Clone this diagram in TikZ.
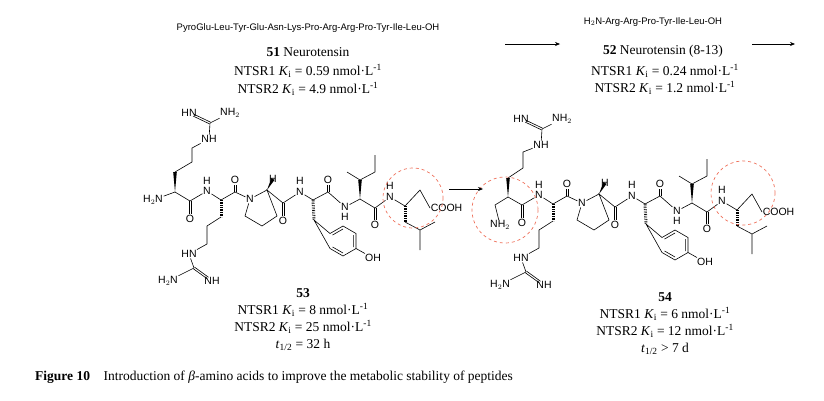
\documentclass[tikz,border=0pt]{standalone}
\usepackage{fontspec}
\setmainfont{Liberation Serif}
\setsansfont{Liberation Sans}
\usetikzlibrary{calc,arrows.meta}
\definecolor{rc}{RGB}{238,112,90}
\newcommand{\atf}{\sffamily\fontsize{10.5}{11}\selectfont}
\newcommand{\Ki}{\textit{K}\textsubscript{i}}
\newcommand{\wdg}[2]{\fill (#1) -- ($(#2)!1.8pt!90:(#1)$) -- ($(#2)!1.8pt!-90:(#1)$) -- cycle;}
\newcommand{\dbo}[2]{\draw[bd,shorten >=5pt] ($(#1)!1pt!90:(#2)$) -- ($(#2)!1pt!-90:(#1)$); \draw[bd,shorten >=5pt] ($(#1)!1pt!-90:(#2)$) -- ($(#2)!1pt!90:(#1)$);}
\newcommand{\pepcore}{%
 \coordinate (C1) at (190,201); \node[atm] (O1) at (190,219) {O};
 \node[atm] (N2) at (207,191) {N}; \node[atm] (H2) at (207,181) {H};
 \coordinate (A2) at (221,200); \coordinate (s1) at (221,217); \coordinate (s2) at (207,226); \coordinate (s3) at (207,244);
 \node[atm] (gHN) at (189,254) {HN}; \coordinate (gC) at (194,268);
 \node[atm] (gNH2) at (168,281) {H$_2$N}; \node[atm] (gNH) at (212,281) {NH};
 \coordinate (C2) at (235,192); \node[atm] (O2) at (235,180) {O};
 \node[atm] (NP) at (250,199) {N}; \coordinate (PA) at (267,190); \node[atm] (PH) at (273,179) {H};
 \coordinate (r1) at (245,216); \coordinate (r2) at (262,226); \coordinate (r3) at (277,216);
 \coordinate (C3) at (283,203); \node[atm] (O3) at (283,221) {O};
 \node[atm] (N3) at (300,192) {N}; \node[atm] (H3) at (300,181) {H};
 \coordinate (A3) at (313,200); \coordinate (t1) at (314,220);
 \coordinate (bc) at (343,241);
 \coordinate (b1) at (330,233.5); \coordinate (b2) at (343,226); \coordinate (b3) at (356,233.5);
 \coordinate (b4) at (356,248.5); \coordinate (b5) at (343,256); \coordinate (b6) at (330,248.5);
 \node[atm] (OH) at (373,258) {OH};
 \coordinate (C4) at (328,192); \node[atm] (O4) at (328,180) {O};
 \node[atm] (N4) at (345,207) {N}; \node[atm] (H4) at (345,217) {H};
 \coordinate (A4) at (360,199); \coordinate (i1) at (360,180); \coordinate (i2) at (347,172);
 \coordinate (i3) at (375,172); \coordinate (i4) at (375,155);
 \coordinate (C5) at (375,208); \node[atm] (O5) at (375,225) {O};
 \node[atm] (N5) at (390,197) {N}; \node[atm] (H5) at (390,186) {H};
 \coordinate (A5) at (405,206); \coordinate (l1) at (405,222); \coordinate (l2) at (420,230);
 \coordinate (l3) at (420,250); \coordinate (l4) at (435,222); \coordinate (b7) at (420,190);
 \node[atm,anchor=west] (COOH) at (430,208) {COOH};
 \draw[bd] (C1) -- (N2) -- (A2); \dbo{C1}{O1}
 \draw[hash] (A2) -- (s1); \draw[bd] (s1) -- (s2) -- (s3) -- (gHN) -- (gC) -- (gNH2); \dbo{gC}{gNH}
 \draw[bd] (A2) -- (C2) -- (NP) -- (PA); \dbo{C2}{O2}
 \wdg{PA}{PH}
 \draw[bd] (NP) -- (r1) -- (r2) -- (r3) -- (PA) -- (C3) -- (N3) -- (A3); \dbo{C3}{O3}
 \draw[hash] (A3) -- (t1); \draw[bd] (t1) -- (b1) -- (b2) -- (b3) -- (b4) -- (b5) -- (b6) -- cycle; \draw[bd] (b4) -- (OH);
 \draw[bd] ($(b1)!0.2!(bc)$) -- ($(b2)!0.2!(bc)$) ($(b3)!0.2!(bc)$) -- ($(b4)!0.2!(bc)$) ($(b5)!0.2!(bc)$) -- ($(b6)!0.2!(bc)$);
 \draw[bd] (A3) -- (C4) -- (N4) -- (A4); \dbo{C4}{O4}
 \wdg{A4}{i1}
 \draw[bd] (i2) -- (i1) -- (i3) -- (i4);
 \draw[bd] (A4) -- (C5) -- (N5) -- (A5); \dbo{C5}{O5}
 \draw[hash] (A5) -- (l1); \draw[bd] (l1) -- (l2) -- (l3) (l2) -- (l4);
 \draw[bd] (A5) -- (b7) -- (COOH.west);
}
\tikzset{bd/.style={line width=0.6pt}, atm/.style={font=\atf, inner sep=0.6pt},
 hash/.style={line width=3pt, dash pattern=on 0.6pt off 1.1pt},
 tx/.style={font=\fontsize{13.5}{14}\selectfont, inner sep=0pt},
 sq/.style={font=\sffamily\fontsize{9.5}{10}\selectfont, inner sep=0pt},
 ring/.style={rc, dashed, line width=0.7pt},
 arr/.style={-{Stealth[length=5pt,width=4pt]}, line width=0.6pt}}
\begin{document}
\begin{tikzpicture}[x=1pt,y=-1pt]
\useasboundingbox (0,0) rectangle (824,400);
% left molecule 53
\begin{scope}[name prefix=L-]
 \pepcore
 \coordinate (A1) at (175,192); \node[atm] (H2N1) at (153,200) {H$_2$N};
 \coordinate (a3) at (175,172); \coordinate (a2) at (192,162); \coordinate (a1) at (192,148);
 \node[atm] (gNHa) at (209,139) {NH}; \coordinate (gCa) at (210,123);
 \node[atm] (gHNa) at (189,113) {HN}; \node[atm] (gNH2a) at (230,113) {NH$_2$};
 \draw[bd] (H2N1) -- (A1) -- (C1);
 \wdg{A1}{a3}
 \draw[bd] (a3) -- (a2) -- (a1) -- (gNHa) -- (gCa) -- (gNH2a); \dbo{gCa}{gHNa}
\end{scope}
% right molecule 54
\begin{scope}[shift={(332,4)}, name prefix=R-]
 \pepcore
 \coordinate (A1) at (176,193); \coordinate (m1) at (163,201); \node[atm] (NH2b) at (168,221) {NH$_2$};
 \coordinate (w) at (176,174); \coordinate (q2) at (191,164); \coordinate (q1) at (191,148);
 \node[atm] (gNHb) at (209,141) {NH}; \coordinate (gCb) at (210,125);
 \node[atm] (gHNb) at (189,115) {HN}; \node[atm] (gNH2b) at (230,115) {NH$_2$};
 \draw[bd] (NH2b) -- (m1) -- (A1) -- (C1);
 \wdg{A1}{w}
 \draw[bd] (w) -- (q2) -- (q1) -- (gNHb) -- (gCb) -- (gNH2b); \dbo{gCb}{gHNb}
\end{scope}
\draw[ring] (413,198) circle (30);
\draw[ring] (505,210) circle (33);
\draw[ring] (743,193) circle (32);
\coordinate (m0) at (449,189); \coordinate (m9) at (483,189);
\draw[arr] (m0) -- (m9);
% texts
\node[sq] (s51) at (308,28) {PyroGlu-Leu-Tyr-Glu-Asn-Lys-Pro-Arg-Arg-Pro-Tyr-Ile-Leu-OH};
\node[tx] (t51) at (308,52) {\textbf{51} Neurotensin};
\node[tx] (t51a) at (308,71) {NTSR1 \Ki{} = 0.59 nmol·L\textsuperscript{-1}};
\node[tx] (t51b) at (308,89) {NTSR2 \Ki{} = 4.9 nmol·L\textsuperscript{-1}};
\node[sq] (s52) at (653,22) {H$_2$N-Arg-Arg-Pro-Tyr-Ile-Leu-OH};
\node[tx] (t52) at (663,51) {\textbf{52} Neurotensin (8-13)};
\node[tx] (t52a) at (665,71) {NTSR1 \Ki{} = 0.24 nmol·L\textsuperscript{-1}};
\node[tx] (t52b) at (665,88) {NTSR2 \Ki{} = 1.2 nmol·L\textsuperscript{-1}};
\coordinate (p0) at (505,44); \coordinate (p1) at (560,44);
\coordinate (p2) at (752,44); \coordinate (p3) at (795,44);
\draw[arr] (p0) -- (p1); \draw[arr] (p2) -- (p3);
\node[tx] (t53) at (303,293) {\textbf{53}};
\node[tx] (t53a) at (303,310) {NTSR1 \Ki{} = 8 nmol·L\textsuperscript{-1}};
\node[tx] (t53b) at (303,327) {NTSR2 \Ki{} = 25 nmol·L\textsuperscript{-1}};
\node[tx] (t53c) at (303,345) {\textit{t}\textsubscript{1/2} = 32 h};
\node[tx] (t54) at (665,297) {\textbf{54}};
\node[tx] (t54a) at (665,314) {NTSR1 \Ki{} = 6 nmol·L\textsuperscript{-1}};
\node[tx] (t54b) at (665,331) {NTSR2 \Ki{} = 12 nmol·L\textsuperscript{-1}};
\node[tx] (t54c) at (665,349) {\textit{t}\textsubscript{1/2} > 7 d};
\node[tx, anchor=west] (cap) at (35,377) {\textbf{Figure 10}\quad Introduction of \textit{β}-amino acids to improve the metabolic stability of peptides};
\end{tikzpicture}
\end{document}
